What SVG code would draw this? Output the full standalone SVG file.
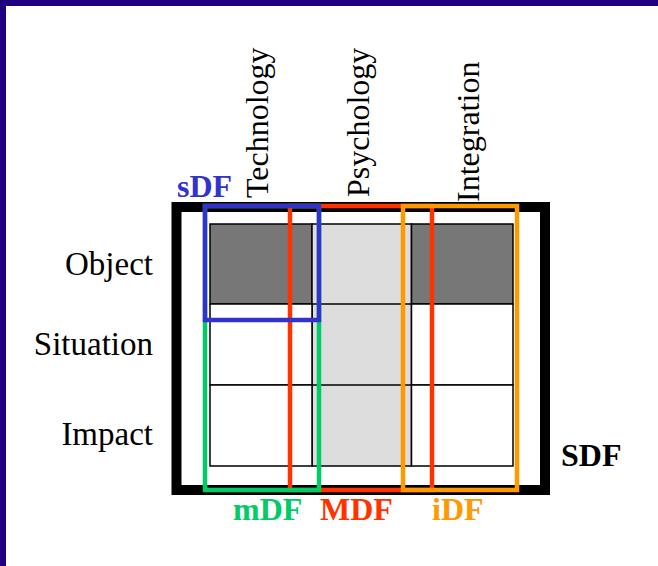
<svg xmlns="http://www.w3.org/2000/svg" width="658" height="566" viewBox="0 0 658 566">
<style>
.lbl{font-family:"Liberation Serif","Times New Roman",serif;font-size:32px;fill:#000}
.row{font-size:33px}
.bl{font-family:"Liberation Serif","Times New Roman",serif;font-size:32px;font-weight:bold}
.cell{stroke:#000;stroke-width:1.5}
.box{fill:none;stroke-width:4.5}
</style>
<rect x="0" y="0" width="658" height="566" fill="#fff"/>
<rect x="0" y="0" width="658" height="6" fill="#200080"/>
<rect x="0" y="0" width="6" height="566" fill="#200080"/>

<g id="SDF-frame">
<rect x="176.5" y="207" width="368.5" height="283" fill="none" stroke="#000" stroke-width="10"/>
</g>

<g id="grid">
<rect class="cell" x="210" y="224" width="102" height="80" fill="#777"/>
<rect class="cell" x="312" y="224" width="99.5" height="242" fill="#ddd"/>
<rect class="cell" x="411.5" y="224" width="101.5" height="80" fill="#777"/>
<rect class="cell" x="210" y="304" width="102" height="81" fill="#fff"/>
<rect class="cell" x="210" y="385" width="102" height="81" fill="#fff"/>
<rect class="cell" x="411.5" y="304" width="101.5" height="81" fill="#fff"/>
<rect class="cell" x="411.5" y="385" width="101.5" height="81" fill="#fff"/>
<line class="cell" x1="312" y1="304" x2="411.5" y2="304"/>
<line class="cell" x1="312" y1="385" x2="411.5" y2="385"/>
</g>

<g id="connectors">
<rect id="MDF-box" class="box" x="290" y="206" width="142" height="284" stroke="#ff3300"/>
<rect id="mDF-box" class="box" x="205" y="206" width="114" height="284" stroke="#00cc66"/>
<rect id="sDF-box" class="box" x="205" y="206" width="114" height="114" stroke="#3333cc"/>
<rect id="iDF-box" class="box" x="403" y="206" width="114" height="284" stroke="#ff9900"/>
</g>

<g id="row-labels">
<text class="lbl row" x="153" y="275" text-anchor="end">Object</text>
<text class="lbl row" x="153" y="355" text-anchor="end">Situation</text>
<text class="lbl row" x="153" y="445" text-anchor="end">Impact</text>
</g>

<g id="col-labels">
<text class="lbl" transform="translate(268,198) rotate(-90)">Technology</text>
<text class="lbl" transform="translate(369,197) rotate(-90)">Psychology</text>
<text class="lbl" transform="translate(479,202) rotate(-90)">Integration</text>
</g>

<g id="box-labels">
<text class="bl" x="177" y="197" fill="#3333cc">sDF</text>
<text class="bl" x="561" y="466" fill="#000">SDF</text>
<text class="bl" x="233" y="520" fill="#00cc66">mDF</text>
<text class="bl" x="320" y="520" fill="#ff3300">MDF</text>
<text class="bl" x="432" y="520" fill="#ff9900">iDF</text>
</g>
</svg>
